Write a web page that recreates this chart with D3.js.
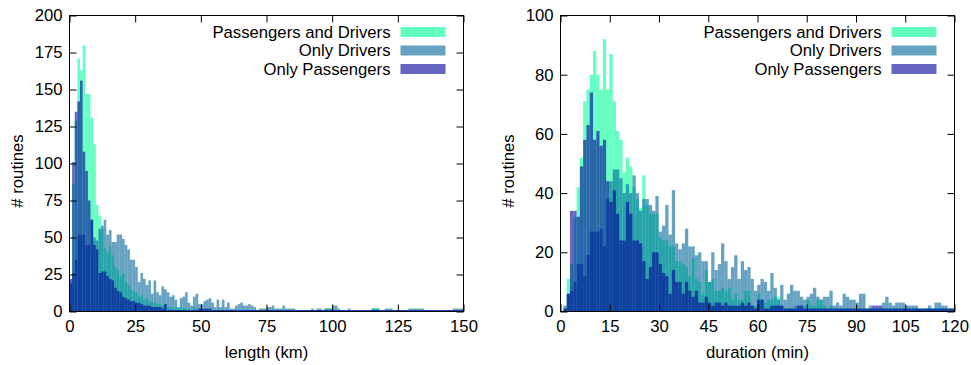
<!DOCTYPE html>
<html>
<head>
<meta charset="utf-8">
<script src="https://cdn.jsdelivr.net/npm/d3@7"></script>
<style>
  body { margin: 0; background: #fff; }
  svg { display: block; font-family: 'Liberation Sans', Arial, sans-serif; }
</style>
</head>
<body>
<svg id="chart" width="971" height="365"></svg>
<script>
// series drawn in this order, each semi transparent
const seriesNames = ['Passengers and Drivers', 'Only Drivers', 'Only Passengers'];
const seriesColors = ['#00ff99', '#006699', '#000099'];

// length histogram, 1 km bins, 0..149
const lengthPD = [
  19, 86, 129, 171, 163, 180, 147, 147, 131, 113,
  72, 65, 56, 43, 40, 44, 38, 30, 28, 24,
  26, 20, 18, 15, 13, 13, 10, 11, 8, 9,
  7, 6, 6, 5, 5, 4, 5, 3, 3, 2,
  3, 2, 3, 2, 2, 2, 1, 3, 2, 1,
  2, 1, 1, 2, 1, 1, 1, 1, 1, 1,
  1, 1, 1, 1, 1, 1, 1, 1, 1, 1,
  1, 1, 1, 1, 1, 1, 1, 1, 1, 1,
  1, 1, 1, 1, 1, 1, 1, 1, 1, 1,
  1, 1, 1, 1, 1, 1, 1, 2, 2, 2,
  1, 1, 1, 1, 1, 1, 1, 1, 1, 1,
  1, 1, 1, 1, 1, 2, 2, 2, 1, 1,
  1, 1, 1, 1, 1, 1, 1, 1, 1, 1,
  1, 1, 1, 1, 1, 1, 1, 1, 1, 1,
  1, 1, 1, 1, 1, 1, 1, 1, 1, 1
];
const lengthD = [
  19, 26, 35, 52, 52, 52, 45, 45, 62, 50,
  48, 56, 58, 62, 52, 55, 47, 47, 52, 52,
  49, 45, 42, 35, 35, 30, 20, 26, 22, 18,
  21, 12, 21, 13, 11, 17, 15, 13, 10, 11,
  8, 3, 9, 10, 13, 6, 4, 10, 12, 5,
  5, 7, 8, 9, 6, 3, 8, 3, 8, 3,
  6, 2, 2, 4, 5, 6, 4, 4, 5, 4,
  3, 1, 2, 2, 2, 3, 3, 4, 2, 2,
  2, 4, 2, 2, 2, 2, 1, 1, 1, 1,
  1, 1, 2, 1, 2, 2, 1, 2, 2, 2,
  4, 4, 2, 1, 1, 1, 2, 1, 1, 1,
  1, 1, 1, 1, 1, 2, 2, 2, 1, 1,
  2, 2, 2, 1, 1, 1, 1, 1, 1, 2,
  2, 2, 2, 2, 2, 1, 1, 1, 1, 1,
  1, 1, 1, 1, 1, 1, 2, 2, 2, 2
];
const lengthP = [
  22, 101, 135, 142, 156, 108, 95, 75, 62, 45,
  42, 26, 27, 27, 24, 22, 21, 16, 14, 13,
  10, 9, 8, 7, 7, 6, 6, 5, 4, 4,
  4, 3, 3, 3, 3, 2, 5, 1, 1, 1,
  1, 1, 1, 1, 1, 1, 1, 1, 1, 2,
  2, 2, 2, 2, 1, 1, 1, 1, 1, 1,
  1, 1, 1, 1, 1, 1, 1, 1, 1, 1,
  1, 1, 1, 1, 1, 1, 1, 1, 1, 1,
  1, 1, 1, 1, 1, 1, 1, 1, 1, 1,
  1, 1, 1, 1, 1, 1, 1, 1, 1, 1,
  1, 1, 1, 1, 1, 1, 1, 1, 1, 1,
  1, 1, 1, 1, 1, 1, 1, 1, 1, 1,
  1, 1, 1, 1, 1, 1, 1, 1, 1, 1,
  1, 1, 1, 1, 1, 1, 1, 1, 1, 1,
  1, 1, 1, 1, 1, 1, 1, 1, 1, 1
];

// duration histogram, 1 min bins, 120 of them
const durationPD = [
  1, 11, 16, 32, 42, 52, 71, 75, 80, 88,
  80, 75, 92, 75, 87, 71, 61, 58, 47, 52,
  49, 42, 38, 35, 46, 36, 33, 33, 33, 25,
  24, 24, 22, 22, 17, 17, 16, 15, 12, 18,
  11, 10, 6, 14, 10, 11, 7, 7, 8, 7,
  8, 4, 6, 4, 4, 7, 7, 2, 2, 6,
  4, 3, 4, 4, 5, 5, 2, 1, 1, 1,
  2, 1, 1, 2, 4, 2, 2, 4, 4, 2,
  1, 2, 1, 1, 1, 1, 1, 1, 1, 1,
  1, 1, 1, 1, 1, 1, 1, 1, 1, 1,
  1, 1, 1, 1, 1, 1, 1, 1, 1, 1,
  1, 1, 1, 1, 1, 1, 1, 1, 1, 1
];
const durationD = [
  2, 6, 7, 10, 16, 16, 12, 19, 27, 27,
  27, 28, 22, 38, 44, 48, 48, 45, 40, 43,
  40, 46, 40, 34, 38, 38, 36, 34, 39, 27,
  29, 36, 26, 41, 23, 21, 23, 28, 22, 22,
  19, 20, 17, 17, 10, 20, 14, 16, 23, 17,
  11, 15, 19, 11, 17, 14, 15, 11, 7, 9,
  11, 10, 7, 13, 8, 4, 9, 4, 6, 9,
  7, 7, 5, 4, 5, 6, 8, 5, 4, 5,
  5, 7, 2, 3, 2, 6, 5, 4, 4, 3,
  6, 6, 1, 2, 1, 1, 1, 3, 5, 3,
  2, 3, 3, 3, 2, 2, 2, 2, 1, 1,
  1, 2, 1, 3, 3, 2, 2, 1, 1, 1
];
const durationP = [
  1, 6, 34, 34, 32, 49, 58, 63, 74, 58,
  61, 56, 58, 44, 37, 41, 33, 24, 24, 37,
  33, 24, 24, 23, 17, 11, 15, 20, 20, 16,
  13, 12, 6, 14, 10, 10, 6, 10, 7, 5,
  7, 3, 3, 5, 3, 2, 3, 3, 2, 3,
  2, 2, 2, 2, 3, 2, 3, 2, 1, 4,
  4, 1, 1, 2, 2, 2, 2, 1, 1, 1,
  1, 2, 2, 1, 1, 1, 1, 1, 1, 1,
  1, 1, 1, 1, 1, 1, 1, 1, 1, 1,
  1, 1, 1, 1, 2, 2, 2, 1, 1, 1,
  1, 1, 1, 1, 1, 1, 1, 1, 1, 1,
  1, 1, 1, 1, 1, 1, 1, 1, 1, 1
];

const lengthTicksX = [0, 25, 50, 75, 100, 125, 150];
const lengthTicksY = [0, 25, 50, 75, 100, 125, 150, 175, 200];
const durationTicksX = [0, 15, 30, 45, 60, 75, 90, 105, 120];
const durationTicksY = [0, 20, 40, 60, 80, 100];

const svg = d3.select('#chart');
const fontSize = 16.7;
const tickLen = 7;

function drawPanel(opts) {
  const g = svg.append('g');

  const x = d3.scaleLinear().domain(opts.xDomain).range([opts.left, opts.right]);
  const y = d3.scaleLinear().domain(opts.yDomain).range([opts.bottom, opts.top]);

  const clipId = 'clip-' + opts.id;
  svg.append('clipPath').attr('id', clipId)
    .append('rect')
    .attr('x', opts.left).attr('y', opts.top)
    .attr('width', opts.right - opts.left).attr('height', opts.bottom - opts.top);

  const bars = g.append('g').attr('clip-path', `url(#${clipId})`);
  opts.series.forEach((vals, si) => {
    bars.append('g')
      .selectAll('rect')
      .data(vals)
      .enter()
      .append('rect')
      .attr('x', (d, i) => x(i + opts.binShift))
      .attr('width', (d, i) => x(i + 1 + opts.binShift) - x(i + opts.binShift))
      .attr('y', d => y(d))
      .attr('height', d => y(0) - y(d))
      .attr('fill', seriesColors[si])
      .attr('fill-opacity', 0.6);
  });

  // axes, ticks pointing inward, mirrored on top and right
  const xAxisG = g.append('g')
    .attr('transform', `translate(0,${opts.bottom})`)
    .call(d3.axisBottom(x).tickValues(opts.xTicks).tickSizeInner(-tickLen).tickSizeOuter(0).tickPadding(9));
  const yAxisG = g.append('g')
    .attr('transform', `translate(${opts.left},0)`)
    .call(d3.axisLeft(y).tickValues(opts.yTicks).tickSizeInner(-tickLen).tickSizeOuter(0).tickPadding(7));
  const topG = g.append('g')
    .attr('transform', `translate(0,${opts.top})`)
    .call(d3.axisTop(x).tickValues(opts.xTicks).tickSizeInner(-tickLen).tickSizeOuter(0).tickFormat(''));
  const rightG = g.append('g')
    .attr('transform', `translate(${opts.right},0)`)
    .call(d3.axisRight(y).tickValues(opts.yTicks).tickSizeInner(-tickLen).tickSizeOuter(0).tickFormat(''));

  [xAxisG, yAxisG, topG, rightG].forEach(a => {
    a.select('.domain').remove();
    a.selectAll('line').attr('stroke', '#000');
    a.selectAll('text')
      .attr('fill', '#000')
      .style('font-family', "'Liberation Sans', Arial, sans-serif")
      .style('font-size', fontSize + 'px');
  });

  g.append('rect')
    .attr('x', opts.left)
    .attr('y', opts.top)
    .attr('width', opts.right - opts.left)
    .attr('height', opts.bottom - opts.top)
    .attr('fill', 'none')
    .attr('stroke', '#000')
    .attr('stroke-width', 1);

  // axis titles
  g.append('text')
    .attr('x', (opts.left + opts.right) / 2)
    .attr('y', 358)
    .attr('text-anchor', 'middle')
    .style('font-size', fontSize + 'px')
    .text(opts.xLabel);

  g.append('text')
    .attr('transform', `translate(${opts.left - 52},171) rotate(-90)`)
    .attr('text-anchor', 'middle')
    .attr('dy', '0.35em')
    .style('font-size', fontSize + 'px')
    .text('# routines');

  // legend
  const rowY = [32, 50.5, 69];
  const textRight = opts.right - 73;
  seriesNames.forEach((name, i) => {
    g.append('text')
      .attr('x', textRight)
      .attr('y', rowY[i])
      .attr('dy', '0.35em')
      .attr('text-anchor', 'end')
      .style('font-size', fontSize + 'px')
      .text(name);
    g.append('rect')
      .attr('x', textRight + 10)
      .attr('y', rowY[i] - 5)
      .attr('width', 45)
      .attr('height', 10)
      .attr('fill', seriesColors[i])
      .attr('fill-opacity', 0.6);
  });
}

drawPanel({
  id: 'length',
  left: 69.5, right: 463.5, top: 15.5, bottom: 311.5,
  xDomain: [0, 150], yDomain: [0, 200], binShift: 0,
  xTicks: lengthTicksX, yTicks: lengthTicksY,
  series: [lengthPD, lengthD, lengthP],
  xLabel: 'length (km)'
});

drawPanel({
  id: 'duration',
  left: 560.5, right: 954.5, top: 15.5, bottom: 311.5,
  xDomain: [0, 120], yDomain: [0, 100], binShift: 0.9,
  xTicks: durationTicksX, yTicks: durationTicksY,
  series: [durationPD, durationD, durationP],
  xLabel: 'duration (min)'
});
</script>
</body>
</html>
